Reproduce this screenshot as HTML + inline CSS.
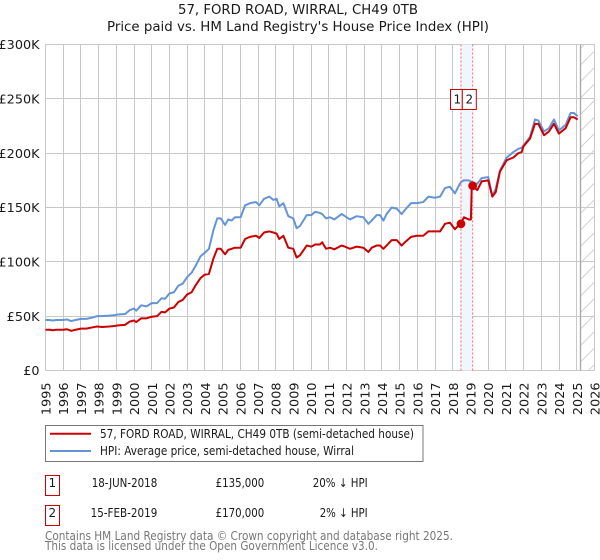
<!DOCTYPE html>
<html lang="en">
<head>
<meta charset="utf-8">
<title>57, FORD ROAD, WIRRAL, CH49 0TB</title>
<style>
html,body{margin:0;padding:0;background:#fff;width:600px;height:560px;overflow:hidden}
svg{display:block;font-family:"DejaVu Sans","Liberation Sans",sans-serif}
</style>
</head>
<body>
<svg id="chart" width="600" height="560" viewBox="0 0 600 560" xmlns="http://www.w3.org/2000/svg">
  <rect width="600" height="560" fill="#fff"/>
  <text x="298" y="14" text-anchor="middle" font-size="13" fill="#1a1a1a" textLength="240" lengthAdjust="spacingAndGlyphs">57, FORD ROAD, WIRRAL, CH49 0TB</text>
  <text x="298" y="31" text-anchor="middle" font-size="13" fill="#1a1a1a" textLength="382" lengthAdjust="spacingAndGlyphs">Price paid vs. HM Land Registry's House Price Index (HPI)</text>
  <g id="grid"></g>
  <g id="band"></g>
  <g id="hatch"></g>
  <g id="series"></g>
  <g id="sales"></g>
  <g id="yticks"></g>
  <g id="xticks"></g>

  <g>
    <rect x="45.5" y="425.5" width="377.5" height="36" fill="#fff" stroke="#777" stroke-width="1"/>
    <line x1="50" x2="91" y1="433.8" y2="433.8" stroke="#cc0000" stroke-width="2"/>
    <text x="100" y="438" font-size="12" fill="#1a1a1a" textLength="314" lengthAdjust="spacingAndGlyphs">57, FORD ROAD, WIRRAL, CH49 0TB (semi-detached house)</text>
    <line x1="50" x2="91" y1="451" y2="451" stroke="#6494d8" stroke-width="2"/>
    <text x="100" y="455" font-size="12" fill="#1a1a1a" textLength="254" lengthAdjust="spacingAndGlyphs">HPI: Average price, semi-detached house, Wirral</text>
  </g>

  <g font-size="12" fill="#1a1a1a">
    <rect x="45.5" y="475.5" width="14" height="20" fill="#fff" stroke="#cc0000"/>
    <text x="52.3" y="487" text-anchor="middle">1</text>
    <text x="157.3" y="487" text-anchor="end" textLength="65.6" lengthAdjust="spacingAndGlyphs">18-JUN-2018</text>
    <text x="264.3" y="487" text-anchor="end" textLength="48.7" lengthAdjust="spacingAndGlyphs">£135,000</text>
    <text x="367.7" y="487" text-anchor="end" textLength="55" lengthAdjust="spacingAndGlyphs">20% ↓ HPI</text>
  </g>
  <g font-size="12" fill="#1a1a1a">
    <rect x="45.5" y="505.5" width="14" height="20" fill="#fff" stroke="#cc0000"/>
    <text x="52.3" y="517" text-anchor="middle">2</text>
    <text x="157.3" y="517" text-anchor="end" textLength="66.7" lengthAdjust="spacingAndGlyphs">15-FEB-2019</text>
    <text x="264.3" y="517" text-anchor="end" textLength="48.7" lengthAdjust="spacingAndGlyphs">£170,000</text>
    <text x="367.7" y="517" text-anchor="end" textLength="48" lengthAdjust="spacingAndGlyphs">2% ↓ HPI</text>
  </g>

  <text x="45" y="540" font-size="12" fill="#777" textLength="408" lengthAdjust="spacingAndGlyphs">Contains HM Land Registry data © Crown copyright and database right 2025.</text>
  <text x="45" y="550" font-size="12" fill="#777" textLength="333" lengthAdjust="spacingAndGlyphs">This data is licensed under the Open Government Licence v3.0.</text>
</svg>

<script>
var xTickLabels = [1995,1996,1997,1998,1999,2000,2001,2002,2003,2004,2005,2006,2007,2008,2009,2010,2011,2012,2013,2014,2015,2016,2017,2018,2019,2020,2021,2022,2023,2024,2025,2026];
var yTickValues = [0,50000,100000,150000,200000,250000,300000];
var yTickLabels = ["£0","£50K","£100K","£150K","£200K","£250K","£300K"];
var dates = [1995,1995.25,1995.4,1995.6,1996,1996.2,1996.45,1996.7,1997,1997.3,1997.6,1997.9,1998.2,1998.6,1998.9,1999.1,1999.5,1999.75,2000,2000.12,2000.4,2000.7,2001,2001.3,2001.55,2001.75,2002,2002.25,2002.5,2002.75,2003,2003.25,2003.5,2003.75,2003.97,2004.23,2004.48,2004.7,2004.89,2005.14,2005.32,2005.51,2005.7,2006.02,2006.27,2006.55,2006.89,2007.07,2007.34,2007.64,2007.86,2008.05,2008.2,2008.43,2008.71,2008.99,2009.18,2009.37,2009.75,2010.01,2010.22,2010.5,2010.62,2010.84,2011.06,2011.31,2011.72,2011.91,2012.19,2012.57,2012.95,2013.23,2013.42,2013.7,2013.89,2014.08,2014.26,2014.55,2014.83,2015.11,2015.36,2015.64,2015.98,2016.33,2016.62,2017,2017.28,2017.56,2017.84,2018.12,2018.4,2018.5,2018.63,2018.9,2019.02,2019.07,2019.12,2019.38,2019.63,2020,2020.23,2020.42,2020.66,2021.04,2021.42,2021.7,2021.89,2021.98,2022.36,2022.64,2022.83,2023.15,2023.43,2023.71,2023.99,2024.37,2024.65,2024.84,2025.05];
var hpiValues = [46.5,46.5,46,46.5,46.5,47,45.5,46.5,47.5,47.5,48.5,50,50,50.5,51,51.5,52,55.5,57,55,60,59,62,62,66.5,66,71,72,78,80,86,90,97,105,108,112,129,140,140,134,139,138,141,141,152,154,155,152,158,160,157,158,151,154,142,140,131,133,143,143,146,145,144,140,141,139,144,142,139,142,141,135,138,143,143,138,144,150,149,144,149,154,154,155,160,159,160,168,169,163,172,174,175,175,174,173,172,172,177,178,161,167,184,196,201,204,205,207,215,231,230,220,223,231,221,226,237,237,234];
var priceValues = [37.5,37.5,37,37.5,37.5,38,36.5,37.5,38.5,38.5,39.5,40.5,40,40.5,41,41.5,42,45,46,44.5,48,48,49.5,50,54,53.5,57,58,63,65,70,72,79,85,88,89,103,112,112,107,111,112,113,113,121,123,124,122,127,128,127,126,121,124,113,112,104,106,115,114,116,116,118,112,113,111.5,115,114,112,114,113,109,113,115,115,112,115,120,120,115,119,123,124,124,128,128,128,135,136,130,135,137,141,139,139,169,170,166,174,175,160,164,183,193.5,196,200,201,206,213.5,227,227,216.5,220,227,218,223,233,233,231];
var saleDates = [2018.46,2019.12];
var salePrices = [135000,170000];
var saleNumbers = ["1","2"];
var lastDataYear = 2025.2;

var NS = "http://www.w3.org/2000/svg";
var plot = {left:45.5,right:594.5,top:44.5,bottom:370.5,x0:1995,x1:2026,yMax:300000};
function xScale(year){return plot.left+(year-plot.x0)/(plot.x1-plot.x0)*(plot.right-plot.left);}
function yScale(value){return plot.bottom-value/plot.yMax*(plot.bottom-plot.top);}
function crisp(v){return Math.floor(v)+0.5;}
function make(tag,attrs,parent){
  var el=document.createElementNS(NS,tag);
  for(var k in attrs){el.setAttribute(k,attrs[k]);}
  parent.appendChild(el);
  return el;
}
var grid=document.getElementById("grid");
xTickLabels.forEach(function(year){
  var gx=crisp(xScale(year));
  var line=make("line",{x1:gx,x2:gx,y1:plot.top-0.5,y2:plot.bottom,stroke:"#c8c8c8","stroke-width":1},grid);
  
  
});
yTickValues.forEach(function(v){
  var gy=crisp(yScale(v));
  var line=make("line",{x1:plot.left,x2:plot.right,y1:gy,y2:gy,stroke:"#c8c8c8","stroke-width":1},grid);
  
  
});

var xticks=document.getElementById("xticks");
xTickLabels.forEach(function(year){
  var tx=xScale(year)+5;
  var t=make("text",{x:tx,y:382.5,"font-size":12.8,fill:"#1a1a1a","text-anchor":"end",transform:"rotate(-90 "+tx+" 382.5)"},xticks);
  
  
  t.textContent=String(year);
});
var yticks=document.getElementById("yticks");
yTickValues.forEach(function(v,i){
  var t=make("text",{x:39.5,y:yScale(v)+4.7,"font-size":12.8,fill:"#1a1a1a","text-anchor":"end"},yticks);
  
  
  t.textContent=yTickLabels[i];
});

var band=document.getElementById("band");
var bandRect=make("rect",{x:xScale(saleDates[0]),y:plot.top,width:xScale(saleDates[1])-xScale(saleDates[0]),height:plot.bottom-plot.top,fill:"#f1f6fd"},band);



var hatch=document.getElementById("hatch");
var hx=xScale(lastDataYear);
var hatchClip=make("clipPath",{id:"hatchClip"},hatch);
make("rect",{x:hx,y:plot.top,width:plot.right-hx,height:plot.bottom-plot.top},hatchClip);
var hatchLines=make("g",{"clip-path":"url(#hatchClip)"},hatch);
for(var hy=plot.top-10;hy<plot.bottom+40;hy+=16.5){
  var hl=make("line",{x1:hx,x2:plot.right,y1:hy+(plot.right-hx),y2:hy,stroke:"#d2d2d2","stroke-width":1},hatchLines);
  
  
}
var hEdge=make("line",{x1:crisp(hx),x2:crisp(hx),y1:plot.top,y2:plot.bottom,stroke:"#aaa","stroke-width":1.4},hatch);



function pathFor(values){
  return dates.map(function(d,i){return (i?"L":"M")+xScale(d).toFixed(2)+" "+yScale(values[i]*1000).toFixed(2);}).join("");
}
var series=document.getElementById("series");
var hpiLine=make("path",{d:pathFor(hpiValues),fill:"none",stroke:"#6494d8","stroke-width":2,"stroke-linejoin":"round"},series);


var priceLine=make("path",{d:pathFor(priceValues),fill:"none",stroke:"#cc0000","stroke-width":2,"stroke-linejoin":"round"},series);



var sales=document.getElementById("sales");
saleDates.forEach(function(d,i){
  var sx=xScale(d);
  var dash=make("line",{x1:sx,x2:sx,y1:plot.top,y2:plot.bottom,stroke:"#ff6666","stroke-width":1,"stroke-dasharray":"2 2"},sales);
  
  
});
saleDates.forEach(function(d,i){
  var sx=xScale(d);
  var dot=make("circle",{cx:sx,cy:yScale(salePrices[i]),r:4.4,fill:"#cc0000"},sales);
  
  
});
var labelEdges=[450.5,462.3,476.3];
var labelCenters=[457.3,469.3];
saleNumbers.forEach(function(n,i){
  var box=make("rect",{x:labelEdges[i],y:89.5,width:labelEdges[i+1]-labelEdges[i],height:20,fill:"#fff",stroke:"#cc0000","stroke-width":1},sales);
  
  
  var t=make("text",{x:labelCenters[i],y:103.5,"font-size":12,fill:"#1a1a1a","text-anchor":"middle"},sales);
  
  
  t.textContent=n;
});
</script>
</body>
</html>
